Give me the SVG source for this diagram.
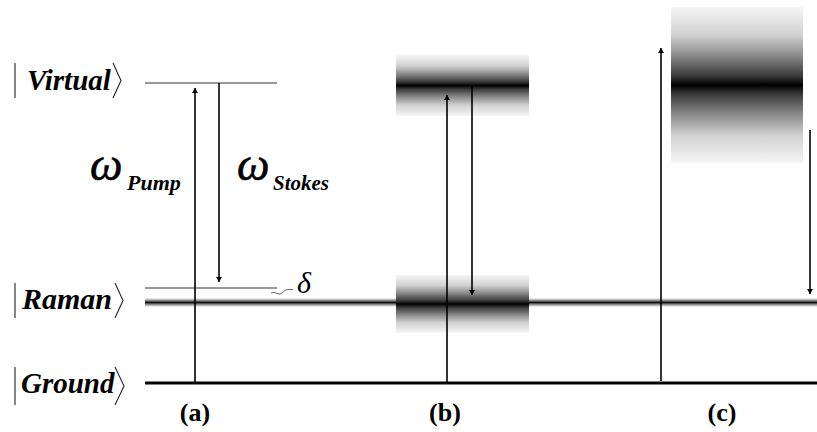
<svg xmlns="http://www.w3.org/2000/svg" width="817" height="432" viewBox="0 0 817 432">
<style>
.lbl{font-family:"Liberation Serif","Times New Roman",serif;font-weight:bold;font-style:italic;fill:#000}
.om{font-family:"Liberation Serif","Times New Roman",serif;font-style:italic;fill:#000}
.cap{font-family:"Liberation Serif","Times New Roman",serif;font-weight:bold;fill:#000;font-size:26px;text-anchor:middle}
.delim{fill:none;stroke:#222;stroke-width:1.1}
.arr{stroke:#000;stroke-width:1.6;fill:none;marker-end:url(#ah)}
</style>
<defs>
<marker id="ah" viewBox="0 0 10 10" refX="10" refY="5" markerWidth="5" markerHeight="6" markerUnits="userSpaceOnUse" orient="auto" preserveAspectRatio="none">
<path d="M0,0 L10,5 L0,10 Z" fill="#000"/>
</marker>
<linearGradient id="gb" x1="0" y1="0" x2="0" y2="1">
<stop offset="0" stop-color="#f6f6f6"/>
<stop offset="0.18" stop-color="#d0d0d0"/>
<stop offset="0.33" stop-color="#808080"/>
<stop offset="0.44" stop-color="#3a3a3a"/>
<stop offset="0.5" stop-color="#000"/>
<stop offset="0.56" stop-color="#3a3a3a"/>
<stop offset="0.67" stop-color="#808080"/>
<stop offset="0.82" stop-color="#d0d0d0"/>
<stop offset="1" stop-color="#f6f6f6"/>
</linearGradient>
<linearGradient id="gr" x1="0" y1="0" x2="0" y2="1">
<stop offset="0" stop-color="#fff"/>
<stop offset="0.25" stop-color="#999"/>
<stop offset="0.5" stop-color="#111"/>
<stop offset="0.75" stop-color="#999"/>
<stop offset="1" stop-color="#fff"/>
</linearGradient>
</defs>
<rect width="817" height="432" fill="#fff"/>

<g id="level-virtual">
<line x1="145" y1="83" x2="277" y2="83" stroke="#777" stroke-width="1.5"/>
<line class="delim" x1="15" y1="63" x2="15" y2="98"/>
<text class="lbl" x="27" y="90" font-size="29">Virtual</text>
<polyline class="delim" points="113,63 121,80.5 113,98"/>
</g>

<g id="level-raman">
<rect x="145" y="298" width="672" height="9" fill="url(#gr)"/>
<line x1="145" y1="288" x2="277" y2="288" stroke="#333" stroke-width="1.2"/>
<line class="delim" x1="15" y1="283" x2="15" y2="318"/>
<text class="lbl" x="22" y="309" font-size="30">Raman</text>
<polyline class="delim" points="115,283 123,300.5 115,318"/>
</g>

<g id="level-ground">
<line x1="145" y1="383" x2="817" y2="383" stroke="#000" stroke-width="3"/>
<line class="delim" x1="15" y1="367" x2="15" y2="405"/>
<text class="lbl" x="21" y="393" font-size="29">Ground</text>
<polyline class="delim" points="115,367 124,386 115,405"/>
</g>

<g id="band-b-upper">
<rect x="396" y="55" width="133" height="61" fill="url(#gb)"/>
</g>
<g id="band-b-lower">
<rect x="396" y="275" width="133" height="58" fill="url(#gb)"/>
</g>
<g id="band-c">
<rect x="671" y="7" width="132" height="156" fill="url(#gb)"/>
</g>

<g id="delta">
<path d="M271,293 q3,-1.5 6,0.5 q3,2 6,-1.5 q3,-3 6,-2.5 l4,0" fill="none" stroke="#555" stroke-width="0.9"/>
<text class="om" x="297" y="293" font-size="30">δ</text>
</g>

<g id="label-pump">
<text class="om" x="90" y="180" font-size="46" stroke="#000" stroke-width="0.6">ω</text>
<text class="lbl" x="127" y="190" font-size="22">Pump</text>
</g>
<g id="label-stokes">
<text class="om" x="237" y="180" font-size="46" stroke="#000" stroke-width="0.6">ω</text>
<text class="lbl" x="273" y="190" font-size="21">Stokes</text>
</g>

<g id="captions">
<text class="cap" x="195" y="421">(a)</text>
<text class="cap" x="445" y="421">(b)</text>
<text class="cap" x="722" y="421">(c)</text>
</g>

<g id="connectors">
<line class="arr" x1="195" y1="383" x2="195" y2="88"/>
<line class="arr" x1="219" y1="83" x2="219" y2="282"/>
<line class="arr" x1="447" y1="383" x2="447" y2="95"/>
<line class="arr" x1="472" y1="85" x2="472" y2="295"/>
<line class="arr" x1="661" y1="381" x2="661" y2="48"/>
<line class="arr" x1="810" y1="130" x2="810" y2="294"/>
</g>
</svg>
